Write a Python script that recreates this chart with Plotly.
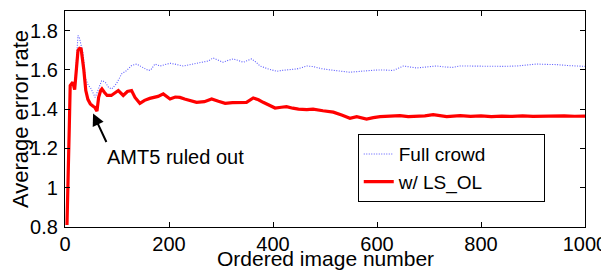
import plotly.graph_objects as go

# ---- data ----
red_x = [3.8, 5, 7, 8.3, 10, 13, 15, 18.6, 21, 25, 28, 31, 36, 40, 44, 48.7, 54, 57, 61.5, 64.7,
         68.6, 71, 76, 81, 89, 96, 102.5, 112, 120, 128, 134.6, 144, 153, 163, 171, 179, 189,
         202, 212, 221, 230, 240, 253, 268, 282, 295, 308, 322, 336, 349, 362, 372, 381, 393,
         404, 416, 426, 438, 449, 465, 477, 496, 516, 532, 548, 561, 580, 593, 606, 625, 644,
         660, 676, 692, 708, 721, 734, 747, 760, 780, 800, 820, 840, 860, 880, 900, 920, 940,
         960, 980, 1000]
red_y = [0.81, 1.0, 1.25, 1.316, 1.52, 1.535, 1.537, 1.50, 1.588, 1.70, 1.71, 1.707, 1.605, 1.495,
         1.45, 1.427, 1.415, 1.41, 1.39, 1.46, 1.495, 1.503, 1.485, 1.47, 1.47, 1.485, 1.495,
         1.47, 1.49, 1.495, 1.46, 1.43, 1.445, 1.455, 1.46, 1.465, 1.478, 1.452, 1.462, 1.46,
         1.452, 1.444, 1.435, 1.438, 1.452, 1.44, 1.43, 1.433, 1.435, 1.435, 1.457, 1.448,
         1.435, 1.42, 1.406, 1.41, 1.413, 1.405, 1.40, 1.398, 1.40, 1.392, 1.385, 1.37, 1.354,
         1.362, 1.35, 1.357, 1.362, 1.365, 1.367, 1.362, 1.362, 1.366, 1.372, 1.366, 1.362,
         1.365, 1.367, 1.363, 1.366, 1.362, 1.365, 1.363, 1.366, 1.363, 1.365, 1.364, 1.366,
         1.364, 1.365]

blue_x = [3.8, 5, 7, 8.3, 10, 13, 15, 18.6, 21, 25, 28, 31, 35, 39, 45, 49, 53, 58, 61, 65, 70.5,
          72.5, 78, 84, 90, 99, 109, 118.6, 128, 138, 150, 160, 165, 173, 183, 192, 202, 214, 227,
          237, 247, 256, 266, 275, 285, 294, 304, 313, 323, 333, 343, 351, 359, 367, 375, 391,
          407, 416, 426, 436, 446, 456, 465, 477, 494, 510, 529, 548, 564, 580, 596, 612, 631,
          651, 663, 676, 695, 715, 730, 745, 760, 790, 817, 843, 869, 888, 907, 926, 946, 968,
          990, 1000]
blue_y = [0.81, 1.0, 1.25, 1.316, 1.52, 1.535, 1.537, 1.52, 1.60, 1.775, 1.76, 1.73, 1.68, 1.56,
          1.52, 1.51, 1.49, 1.46, 1.48, 1.51, 1.545, 1.545, 1.535, 1.51, 1.503, 1.53, 1.58, 1.597,
          1.622, 1.63, 1.613, 1.597, 1.60, 1.63, 1.62, 1.628, 1.634, 1.628, 1.62, 1.625, 1.63,
          1.632, 1.639, 1.645, 1.661, 1.65, 1.639, 1.648, 1.656, 1.648, 1.639, 1.648, 1.656,
          1.64, 1.62, 1.605, 1.593, 1.597, 1.60, 1.603, 1.605, 1.612, 1.62, 1.617, 1.606, 1.60,
          1.595, 1.588, 1.592, 1.597, 1.599, 1.60, 1.597, 1.62, 1.615, 1.61, 1.615, 1.62, 1.615,
          1.613, 1.62, 1.618, 1.617, 1.618, 1.62, 1.625, 1.63, 1.628, 1.627, 1.622, 1.617, 1.618]

series_names = ["Full crowd", "w/ LS_OL"]
x_ticks = [0, 200, 400, 600, 800, 1000]
y_ticks = [0.8, 1.0, 1.2, 1.4, 1.6, 1.8]
y_tick_labels = ["0.8", "1", "1.2", "1.4", "1.6", "1.8"]
x_title = "Ordered image number"
y_title = "Average error rate"

FONT = "Liberation Sans, Arial, sans-serif"
PAD = "\u00a0" * 10  # blank room at the right of the legend box, as in the reference

fig = go.Figure()
fig.add_trace(go.Scatter(x=blue_x, y=blue_y, mode="lines", name=series_names[0] + PAD,
                         line=dict(color="#5a5aff", width=1.1, dash="1px,1.5px")))
fig.add_trace(go.Scatter(x=red_x, y=red_y, mode="lines", name=series_names[1],
                         line=dict(color="#ff0000", width=3.2)))

# arrow (no text) pointing to the dip
fig.add_annotation(x=54, y=1.378, xref="x", yref="y", text="", showarrow=True,
                   ax=14, ay=30, arrowhead=2, arrowsize=1.2, arrowwidth=2,
                   arrowcolor="black", standoff=0)
fig.add_annotation(x=213, y=1.154, xref="x", yref="y", text="AMT5 ruled out",
                   showarrow=False, font=dict(family=FONT, size=20, color="black"))
# x-axis title, sitting low as in the reference (descenders cut by the bottom edge)
fig.add_annotation(x=0.5, y=0, xref="paper", yref="paper", text=x_title,
                   showarrow=False, xanchor="center", yanchor="middle", yshift=-31,
                   font=dict(family=FONT, size=21, color="black"))

# the page body has an 8px margin, so the figure is 8px smaller than the window
fig.update_layout(
    width=601, height=262,
    margin=dict(l=57, r=24, t=3, b=43, autoexpand=False),
    paper_bgcolor="white", plot_bgcolor="white",
    font=dict(family=FONT, size=20, color="black"),
    showlegend=True,
    legend=dict(x=0.563, y=0.43, xanchor="left", yanchor="top",
                bgcolor="white", bordercolor="black", borderwidth=1,
                font=dict(family=FONT, size=19, color="black"),
                tracegroupgap=0, itemwidth=30),
)
fig.update_xaxes(range=[0, 1000], tickvals=x_ticks, ticks="inside", ticklen=5,
                 showline=True, linecolor="black", linewidth=1.3, mirror="ticks",
                 showgrid=False, zeroline=False, tickcolor="black", automargin=False,
                 ticklabelstandoff=-1)
fig.update_yaxes(range=[0.8, 1.9], tickvals=y_ticks, ticktext=y_tick_labels,
                 ticks="inside", ticklen=5, automargin=False,
                 showline=True, linecolor="black", linewidth=1.3, mirror="ticks",
                 showgrid=False, zeroline=False, tickcolor="black",
                 ticklabelstandoff=2,
                 title=dict(text=y_title, standoff=0,
                            font=dict(family=FONT, size=22)))

fig.write_html("out.html")
